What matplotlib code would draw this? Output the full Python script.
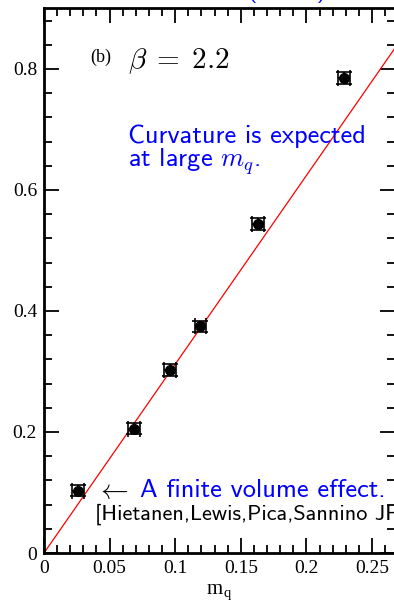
import matplotlib
matplotlib.use("Agg")
import matplotlib.pyplot as plt
from matplotlib.ticker import MultipleLocator

# data
mq = [0.0261, 0.0684, 0.0960, 0.1191, 0.1631, 0.2287]
val = [0.103, 0.2055, 0.3025, 0.3747, 0.5438, 0.785]
mq_err = [0.0044, 0.0044, 0.0044, 0.0044, 0.0044, 0.0044]
val_err = [0.0095, 0.0095, 0.0095, 0.0095, 0.0095, 0.0095]

fit_x = [0.0, 0.27]
fit_y = [0.0, 0.8424]

x_ticks = [0, 0.05, 0.1, 0.15, 0.2, 0.25]
x_ticklabels = ["0", "0.05", "0.1", "0.15", "0.2", "0.25"]
y_ticks = [0, 0.2, 0.4, 0.6, 0.8]
y_ticklabels = ["0", "0.2", "0.4", "0.6", "0.8"]

plt.rcParams["mathtext.fontset"] = "cm"
serif = "Liberation Serif"
sans = "cmss10"
blue = "#0000ff"

fig = plt.figure(figsize=(3.94, 6.07), dpi=100)
W, H = 394.0, 607.0
# axes box in pixels: left 44, right 395, top 8, bottom 553
ax = fig.add_axes([44 / W, (H - 553) / H, (395 - 44) / W, (553 - 8) / H])

ax.plot(fit_x, fit_y, color="red", linewidth=0.9, zorder=2)
ax.errorbar(mq, val, xerr=mq_err, yerr=val_err, fmt="o", color="black",
            markersize=7, capsize=6, elinewidth=1.2, capthick=1.2, zorder=3)

ax.set_xlim(0, 0.2675)
ax.set_ylim(0, 0.9008)

ax.set_xticks(x_ticks)
ax.set_xticklabels(x_ticklabels, fontfamily=serif, fontsize=14)
ax.set_yticks(y_ticks)
ax.set_yticklabels(y_ticklabels, fontfamily=serif, fontsize=14)
ax.xaxis.set_minor_locator(MultipleLocator(0.01))
ax.yaxis.set_minor_locator(MultipleLocator(0.04))
ax.tick_params(which="both", direction="in", top=True, right=True, width=1.3)
ax.tick_params(which="major", length=11, pad=5)
ax.tick_params(which="minor", length=6)
for s in ax.spines.values():
    s.set_linewidth(2)

ax.set_xlabel(r"m$_{\mathregular{q}}$", fontfamily=serif, fontsize=15, labelpad=4)

# annotations
ax.text(0.035, 0.8116, "(b)", fontfamily=serif, fontsize=13, va="baseline")
ax.text(0.064, 0.8017, r"$\beta\;=\;2.2$", fontsize=21, va="baseline")
ax.text(0.064, 0.6777, "Curvature is expected", color=blue, fontfamily=sans,
        fontsize=19, va="baseline")
ax.text(0.064, 0.638, r"at large $m_q$.", color=blue, fontfamily=sans,
        fontsize=19, va="baseline")
ax.text(0.0398, 0.104, r"$\leftarrow$", fontsize=20, va="center")
ax.text(0.0732, 0.093, "A finite volume effect.", color=blue, fontfamily=sans,
        fontsize=19, va="baseline", clip_on=False)
ax.text(0.0389, 0.0545, "[Hietanen,Lewis,Pica,Sannino JHEP 0907:034]",
        fontfamily=sans, fontsize=16, va="baseline", clip_on=False)
# title cut off by the top edge of the picture
fig.text(247 / W, 1 + 3 / H, "(lattice)", color=blue, fontfamily=sans,
         fontsize=17, va="baseline")

fig.savefig("out.png", dpi=100)
